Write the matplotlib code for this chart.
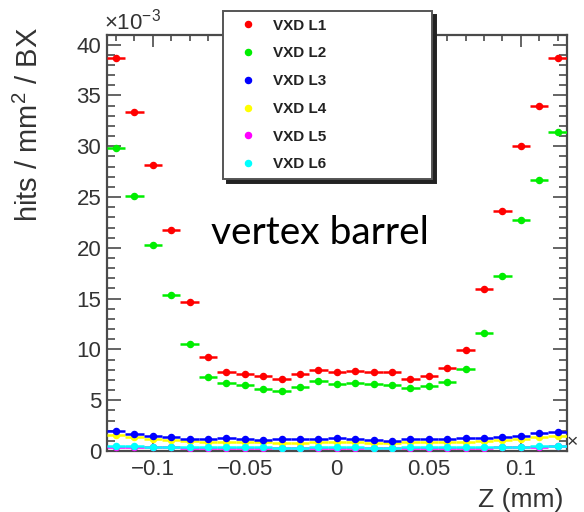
import matplotlib
matplotlib.use("Agg")
import matplotlib.pyplot as plt
from matplotlib.lines import Line2D
from matplotlib.ticker import MultipleLocator, FuncFormatter

plt.rcParams["font.family"] = ["Liberation Sans", "DejaVu Sans"]
plt.rcParams["mathtext.fontset"] = "custom"
plt.rcParams["mathtext.rm"] = "Liberation Sans"
plt.rcParams["mathtext.it"] = "Liberation Sans:italic"
plt.rcParams["mathtext.bf"] = "Liberation Sans:bold"

# bin centres along Z (mm), bin width 0.01
z_centers = [-0.12, -0.11, -0.10, -0.09, -0.08, -0.07, -0.06, -0.05, -0.04,
             -0.03, -0.02, -0.01, 0.00, 0.01, 0.02, 0.03, 0.04, 0.05,
             0.06, 0.07, 0.08, 0.09, 0.10, 0.11, 0.12]
bin_half_width = 0.005

# hits / mm^2 / BX, in units of 1e-3
vxd_l1 = [38.7, 33.4, 28.2, 21.8, 14.7, 9.3, 7.75, 7.6, 7.42, 7.13, 7.59, 7.98,
          7.78, 7.91, 7.75, 7.75, 7.13, 7.42, 8.15, 9.95, 15.9, 23.6, 30.0, 34.0, 38.7]
vxd_l2 = [29.8, 25.1, 20.3, 15.4, 10.5, 7.3, 6.7, 6.5, 6.14, 5.91, 6.34, 6.9,
          6.6, 6.7, 6.6, 6.54, 6.17, 6.4, 6.8, 8.1, 11.6, 17.2, 22.7, 26.7, 31.4]
vxd_l3 = [1.97, 1.67, 1.51, 1.35, 1.18, 1.18, 1.25, 1.18, 1.08, 1.15, 1.15, 1.15,
          1.3, 1.15, 1.08, 0.98, 1.18, 1.18, 1.18, 1.25, 1.31, 1.38, 1.51, 1.74, 1.84]
vxd_l4 = [1.55, 1.35, 1.2, 1.05, 0.95, 0.9, 0.9, 0.85, 0.85, 0.8, 0.8, 0.85,
          0.85, 0.85, 0.8, 0.8, 0.85, 0.85, 0.9, 0.9, 0.95, 1.05, 1.2, 1.4, 1.5]
vxd_l5 = [0.42, 0.4, 0.37, 0.35, 0.33, 0.32, 0.31, 0.3, 0.3, 0.29, 0.29, 0.3,
          0.3, 0.3, 0.29, 0.29, 0.3, 0.3, 0.31, 0.32, 0.33, 0.35, 0.37, 0.41, 0.45]
vxd_l6 = [0.48, 0.45, 0.42, 0.4, 0.38, 0.37, 0.36, 0.35, 0.35, 0.34, 0.34, 0.35,
          0.35, 0.35, 0.34, 0.34, 0.35, 0.35, 0.36, 0.37, 0.38, 0.4, 0.42, 0.46, 0.5]

layer_labels = ["VXD L1", "VXD L2", "VXD L3", "VXD L4", "VXD L5", "VXD L6"]
layer_colors = ["#ff0000", "#00ee00", "#0000ff", "#ffff00", "#ff00ff", "#00ffff"]
layer_values = [vxd_l1, vxd_l2, vxd_l3, vxd_l4, vxd_l5, vxd_l6]

W, H = 584, 512
fig = plt.figure(figsize=(W / 100, H / 100), dpi=100)

# axes frame in pixel coordinates
x0, x1, ytop, ybot = 106.7, 566.7, 34.5, 451.0
ax = fig.add_axes([x0 / W, (H - ybot) / H, (x1 - x0) / W, (ybot - ytop) / H])

frame_col = "#4a4a4a"
text_col = "#333333"

# lower layers first so L1/L2 stay on top; cyan covers magenta
draw_order = [4, 3, 5, 2, 1, 0]
for k, i in enumerate(draw_order):
    ax.errorbar(z_centers, layer_values[i], xerr=bin_half_width, fmt="o",
                ms=4.4, color=layer_colors[i], mec=layer_colors[i],
                elinewidth=1.8, capsize=0, zorder=3 + k * 0.1)

ax.set_xlim(-0.125, 0.125)
ax.set_ylim(0, 41)

ax.xaxis.set_major_locator(MultipleLocator(0.05))
ax.xaxis.set_minor_locator(MultipleLocator(0.01))
ax.yaxis.set_major_locator(MultipleLocator(5))
ax.yaxis.set_minor_locator(MultipleLocator(1))

def xfmt(v, pos):
    if abs(v) < 1e-9:
        return "0"
    s = ("%.2f" % v).rstrip("0").rstrip(".")
    return s.replace("-", "\u2212")

ax.xaxis.set_major_formatter(FuncFormatter(xfmt))
ax.yaxis.set_major_formatter(FuncFormatter(lambda v, p: "%d" % round(v)))

ax.tick_params(axis="both", which="both", direction="in", top=True, right=True,
               color=frame_col, labelcolor=text_col, labelsize=16, width=1.2)
ax.tick_params(axis="x", which="major", length=8.6, pad=6)
ax.tick_params(axis="x", which="minor", length=4.5)
ax.tick_params(axis="y", which="major", length=10, pad=4)
ax.tick_params(axis="y", which="minor", length=5.5)
for sp in ax.spines.values():
    sp.set_color(frame_col)
    sp.set_linewidth(1.6)

ax.set_ylabel("hits / mm$^{2}$ / BX", fontsize=21, color=text_col)
ax.yaxis.set_label_coords((29 - x0) / (x1 - x0), (ybot - 124) / (ybot - ytop))
ax.yaxis.label.set_va("center")

ax.set_xlabel("Z (mm)", fontsize=19, color=text_col)
ax.xaxis.set_label_coords((563 - x0) / (x1 - x0), (ybot - 500) / (ybot - ytop))
ax.xaxis.label.set_ha("right")
ax.xaxis.label.set_va("center")

# exponent labels
fig.text(104 / W, (H - 22) / H, r"$\times10^{-3}$", fontsize=16, color=text_col,
         ha="left", va="center")
fig.text(572 / W, (H - 443) / H, "\u00d7", fontsize=14, color=text_col,
         ha="center", va="center")

# annotation
fig.text(320 / W, (H - 233) / H, "vertex barrel", fontsize=28, family="Lato",
         color="black", ha="center", va="center")

# legend
handles = [Line2D([], [], ls="none", marker="o", ms=4.4, color=c, mec=c)
           for c in layer_colors]
leg = ax.legend(handles, layer_labels, loc="upper left",
                bbox_to_anchor=(223 / W, (H - 11) / H, 209 / W, 0),
                bbox_transform=fig.transFigure, mode="expand", borderaxespad=0,
                prop={"family": "Liberation Sans", "weight": "bold", "size": 11},
                labelcolor="#222222", fancybox=False, framealpha=1,
                edgecolor="#555555", labelspacing=0.9, borderpad=0.5,
                handlelength=2.33, handletextpad=0.46,
                shadow={"ox": 3, "oy": -3, "facecolor": "#222222",
                        "edgecolor": "#222222", "alpha": 1.0})
leg.get_frame().set_linewidth(1.4)
leg.set_zorder(10)

fig.savefig("out.png", dpi=100)
